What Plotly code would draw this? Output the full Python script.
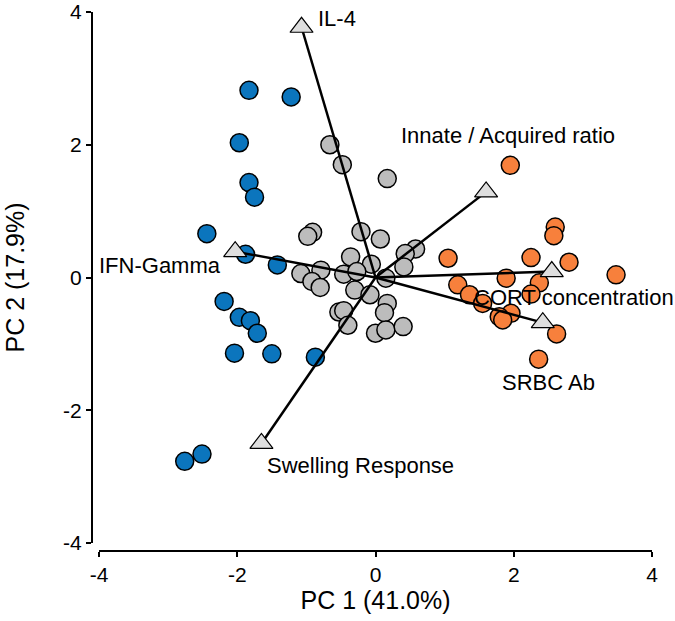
import plotly.graph_objects as go

# ---- data ----
blue_x = [-1.83, -1.22, -1.97, -1.83, -1.75, -2.44, -1.88, -1.42, -2.19, -1.97, -1.81, -1.71, -2.04, -1.50, -0.87, -2.76, -2.51]
blue_y = [2.82, 2.72, 2.03, 1.43, 1.21, 0.66, 0.35, 0.19, -0.36, -0.60, -0.65, -0.84, -1.14, -1.15, -1.20, -2.77, -2.66]

gray_x = [-0.66, -0.48, 0.17, -0.91, -0.98, -0.21, 0.07, 0.58, 0.43, -0.36, -0.06, 0.41, -0.79, -1.08, -0.46, -0.27,
          0.15, -0.92, -0.80, -0.30, -0.08, 0.17, 0.13, -0.53, -0.46, -0.40, 0.00, 0.15, 0.40]
gray_y = [2.00, 1.70, 1.49, 0.68, 0.62, 0.69, 0.58, 0.43, 0.36, 0.31, 0.20, 0.16, 0.11, 0.06, 0.05, 0.09,
          -0.01, -0.06, -0.15, -0.19, -0.26, -0.39, -0.53, -0.52, -0.50, -0.72, -0.84, -0.79, -0.74]

orange_x = [1.95, 2.60, 2.58, 1.05, 2.25, 2.80, 3.48, 1.89, 1.19, 2.37, 2.25, 1.36, 1.55, 1.96, 1.79, 1.84, 2.62, 2.36]
orange_y = [1.69, 0.76, 0.63, 0.29, 0.30, 0.23, 0.04, -0.01, -0.11, -0.08, -0.25, -0.26, -0.39, -0.54, -0.59, -0.64, -0.85, -1.23]

load_names = ["IL-4", "Innate / Acquired ratio", "IFN-Gamma", "CORT concentration", "SRBC Ab", "Swelling Response"]
load_x = [-1.07, 1.60, -2.03, 2.55, 2.42, -1.65]
load_y = [3.77, 1.29, 0.39, 0.09, -0.68, -2.50]

tick_vals = [-4, -2, 0, 2, 4]
tick_text = ["-4", "-2", "0", "2", "4"]

# label placement (pixel offsets from each loading triangle)
label_anchor = ["left", "left", "right", "left", "left", "left"]
label_dx = [14, -87, -12, -80, -43, 4]
label_dy = [9, 56, -14, -26, -60, -22]

FONT = "Liberation Sans, Arial, Helvetica, sans-serif"

fig = go.Figure()

def circles(x, y, color):
    fig.add_trace(go.Scatter(
        x=x, y=y, mode="markers",
        marker=dict(size=18, color=color, line=dict(color="black", width=1.5)),
        showlegend=False, hoverinfo="skip"))

circles(gray_x, gray_y, "#bcbcbc")
circles(blue_x, blue_y, "#0b75bd")
circles(orange_x, orange_y, "#f7803c")

# loading vectors
for lx, ly in zip(load_x, load_y):
    fig.add_trace(go.Scatter(x=[0, lx], y=[0, ly], mode="lines",
                             line=dict(color="black", width=2.5),
                             showlegend=False, hoverinfo="skip"))

fig.add_trace(go.Scatter(
    x=load_x, y=load_y, mode="markers",
    marker=dict(symbol="triangle-up", size=20, color="#dedede",
                line=dict(color="black", width=1.2)),
    showlegend=False, hoverinfo="skip"))

for name, lx, ly, anc, dx, dy in zip(load_names, load_x, load_y, label_anchor, label_dx, label_dy):
    fig.add_annotation(x=lx, y=ly, text=name, showarrow=False,
                       xanchor=anc, yanchor="middle", xshift=dx, yshift=dy,
                       font=dict(family=FONT, size=22, color="black"))

# geometry: margins l=80, r=20, t=5, b=55 -> paper area x 80..655, y 5..566
fig.update_layout(
    width=675, height=621,
    margin=dict(l=80, r=20, t=5, b=55),
    paper_bgcolor="white", plot_bgcolor="white",
    font=dict(family=FONT, size=21, color="black"),
    xaxis=dict(
        range=[-4, 4], domain=[19 / 575, 572 / 575],
        anchor="free", position=15 / 561, automargin=False,
        tickvals=tick_vals, ticktext=tick_text,
        showline=True, linecolor="black", linewidth=2,
        ticks="outside", ticklen=5, tickwidth=2, tickcolor="black",
        showgrid=False, zeroline=False,
        tickfont=dict(family=FONT, size=21),
        title=dict(text="PC 1 (41.0%)", font=dict(family=FONT, size=25), standoff=4),
    ),
    yaxis=dict(
        range=[-4, 4], domain=[23 / 561, 554 / 561],
        anchor="free", position=12 / 575, automargin=False,
        tickvals=tick_vals, ticktext=tick_text,
        showline=True, linecolor="black", linewidth=2,
        ticks="outside", ticklen=5, tickwidth=2, tickcolor="black",
        showgrid=False, zeroline=False,
        tickfont=dict(family=FONT, size=21),
        title=dict(text="PC 2 (17.9%)", font=dict(family=FONT, size=25), standoff=30),
    ),
)

fig.write_html("out.html", config={"displayModeBar": False},
               post_script="document.body.style.margin='0px';")
